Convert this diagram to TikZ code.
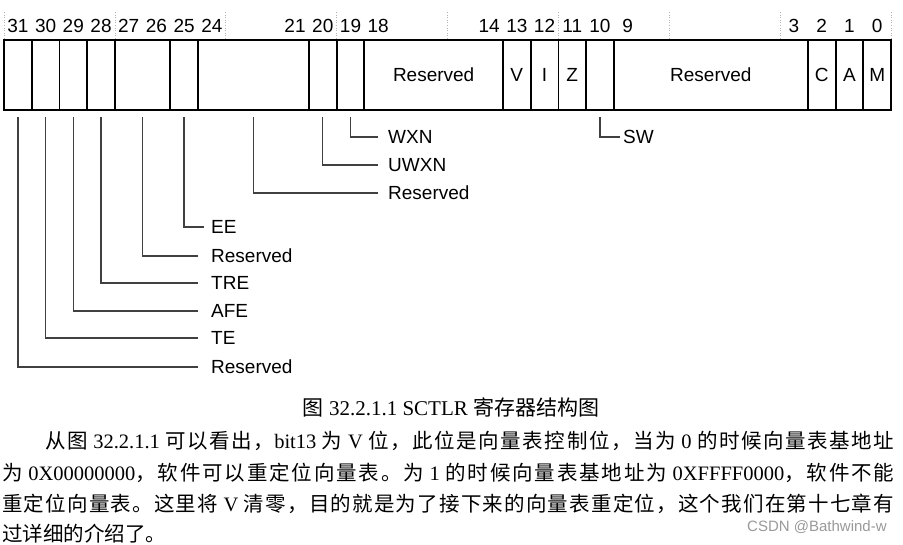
\documentclass[tikz,border=0pt]{standalone}
\usepackage{fontspec}
\setmainfont{Liberation Serif}
\newfontfamily\arial{Liberation Sans}
\newfontfamily\cjk{Noto Sans CJK SC}
% inter-character stretch for CJK (justified lines)
\count255="4E00
\loop \XeTeXcharclass\count255=1 \advance\count255 by 1 \ifnum\count255<"A000 \repeat
\XeTeXcharclass"FF0C=3
\XeTeXcharclass"3002=3
\XeTeXinterchartoks 1 1 {\hskip 0pt plus 1pt\relax}
\XeTeXinterchartoks 1 3 {\hskip 0pt plus 1pt\relax}
\XeTeXinterchartoks 3 1 {\hskip 0pt plus 1pt\relax}
\newcommand\jline[1]{\hbox to 892pt{\spaceskip=5.1pt plus 0.3pt\relax #1}}
\usetikzlibrary{calc}
\begin{document}
\XeTeXinterchartokenstate=1
\begin{tikzpicture}[x=1pt,y=-1pt,
  sansfont/.style={font=\arial\fontsize{19}{22}\selectfont},
  field/.style={draw=black,line width=1.8pt,minimum height=70pt,inner sep=0pt,outer sep=0pt,sansfont},
  bitnum/.style={inner sep=0pt,sansfont},
  lab/.style={anchor=west,inner ysep=0pt,inner xsep=#1,sansfont},
  lab/.default=13pt,
  lead/.style={draw=black!75,line width=1.4pt},
  nibble/.style={draw=black!30,line width=0.6pt,dotted},
  body/.style={anchor=base west,inner sep=0pt,font=\fontsize{20.5}{24}\selectfont},
]
\useasboundingbox (0,0) rectangle (903,544);
\def\W{27.72}
% nibble guides
\foreach \k in {0,...,8} \draw[nibble] ({4+\k*4*\W},12) -- ({4+\k*4*\W},40);
% bit numbers
\foreach \b in {31,30,29,28,27,26,25,24,21,20,19,18,14,13,12,11,10,9,3,2,1,0}{
  \node[bitnum] (n\b) at ({4+(31-\b)*\W+\W/2},26) {\b};
}
% register fields
\foreach \nm/\hi/\lo/\txt in {f31/31/31/{}, f30/30/30/{}, f29/29/29/{}, f28/28/28/{}, f27/27/26/{}, f25/25/25/{}, f24/24/21/{}, f20/20/20/{}, f19/19/19/{}, f18/18/14/Reserved, f13/13/13/V, f12/12/12/I, f11/11/11/Z, f10/10/10/{}, f9/9/3/Reserved, f2/2/2/C, f1/1/1/A, f0/0/0/M}{
  \pgfmathsetmacro\cx{4+(31-\hi)*\W+(\hi-\lo+1)*\W/2}
  \pgfmathsetmacro\fw{(\hi-\lo+1)*\W}
  \node[field,minimum width=\fw pt] (\nm) at (\cx,75) {\txt};
}
% labels
\node[lab=10pt] (lwxn) at (378,137) {WXN};
\node[lab=10pt] (luwxn) at (378,165) {UWXN};
\node[lab=10pt] (lres21) at (378,193) {Reserved};
\node[lab=7pt] (lee) at (204,227) {EE};
\node[lab] (lres26) at (198,256) {Reserved};
\node[lab] (ltre) at (198,283) {TRE};
\node[lab] (lafe) at (198,311) {AFE};
\node[lab] (lte) at (198,338) {TE};
\node[lab] (lres31) at (198,367) {Reserved};
\node[lab=3pt] (lsw) at (620,137) {SW};
% leaders
\draw[lead] (f19.south) ++(0,7) |- (lwxn.west);
\draw[lead] (f20.south) ++(0,7) |- (luwxn.west);
\draw[lead] (f24.south) ++(0,7) |- (lres21.west);
\draw[lead] (f25.south) ++(0,7) |- (lee.west);
\draw[lead] (f27.south) ++(0,7) |- (lres26.west);
\draw[lead] (f28.south) ++(0,7) |- (ltre.west);
\draw[lead] (f29.south) ++(0,7) |- (lafe.west);
\draw[lead] (f30.south) ++(0,7) |- (lte.west);
\draw[lead] (f31.south) ++(0,7) |- (lres31.west);
\draw[lead] (f10.south) ++(0,7) |- (lsw.west);
% caption
\node[inner sep=0pt,anchor=base,font=\fontsize{21}{24}\selectfont] (cap) at (451,415) {{\cjk 图} 32.2.1.1 SCTLR {\cjk 寄存器结构图}};
% paragraph
\node[body] (p1) at (2,448) {\jline{\hskip 43pt{\cjk 从图} 32.2.1.1 {\cjk 可以看出，}bit13 {\cjk 为} V {\cjk 位，此位是向量表控制位，当为} 0 {\cjk 的时候向量表基地址}}};
\node[body] (p2) at (2,480) {\jline{{\cjk 为} 0X00000000{\cjk ，软件可以重定位向量表。为} 1 {\cjk 的时候向量表基地址为} 0XFFFF0000{\cjk ，软件不能}}};
\node[body] (p3) at (2,511) {\jline{{\cjk 重定位向量表。这里将} V {\cjk 清零，目的就是为了接下来的向量表重定位，这个我们在第十七章有}}};
\node[body] (p4) at (2,541) {{\cjk 过详细的介绍了。}};
% watermark
\node[anchor=west,inner sep=0pt,text=black!40,font=\arial\fontsize{15}{18}\selectfont] (wm) at (747,527) {CSDN @Bathwind-w};
\end{tikzpicture}
\end{document}
